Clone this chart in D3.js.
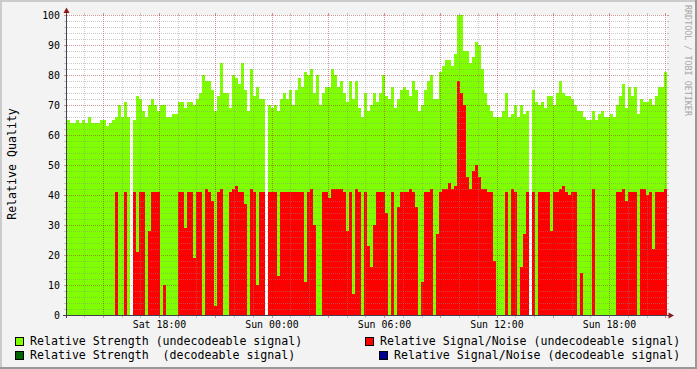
<!DOCTYPE html>
<html><head><meta charset="utf-8">
<script src="https://cdn.jsdelivr.net/npm/d3@7"></script>
<style>html,body{margin:0;padding:0;background:#F3F3F3;} svg{display:block;}</style>
</head><body>
<svg id="c" width="697" height="369"></svg>
<script>
// ---- data ----
const startTime = Date.UTC(2009, 2, 7, 13, 5, 36); // Sat 13:05:36
const stepMinutes = 9.6;
const strength = [65,64,64,65,64,65,64,66,64,64,64,65,65,63,64,65,66,70,66,71,66,null,65,73,72,68,66,70,72,70,68,70,70,66,66,67,67,71,71,69,71,71,70,72,74,80,78,78,75,68,73,84,74,74,69,80,79,77,84,75,68,82,73,76,72,72,null,70,69,70,68,72,74,72,75,70,75,79,76,81,80,82,74,80,70,74,76,76,82,80,76,78,74,71,78,72,78,69,66,74,68,70,74,71,74,80,73,72,76,69,72,75,76,75,73,78,75,68,70,75,78,80,72,72,81,83,85,85,83,87,100,100,88,88,84,86,91,90,82,74,70,68,66,66,66,68,74,66,67,70,66,70,67,68,null,75,71,70,71,69,73,73,70,74,78,74,73,73,72,70,68,68,66,65,65,68,65,67,68,66,66,67,66,70,73,77,69,76,73,76,67,72,71,71,72,70,73,76,76,81];
const signalNoise = [0,0,0,0,0,0,0,0,0,0,0,0,0,0,0,0,41,0,0,41,0,null,41,21,41,41,0,28,41,41,41,0,10,0,0,0,0,41,41,29,41,41,19,41,41,0,42,41,38,3,41,42,0,0,41,42,43,41,41,37,0,42,41,10,41,41,null,41,41,41,13,41,41,41,41,41,41,41,41,11,41,42,30,0,0,41,41,39,42,42,42,42,41,28,41,7,42,41,0,41,23,16,30,41,41,41,34,0,41,0,36,41,41,41,42,41,36,0,11,41,41,42,0,27,41,42,42,44,42,43,78,74,70,46,42,48,50,46,42,42,41,41,18,0,0,0,41,0,42,41,0,16,27,41,null,41,0,41,41,41,41,28,41,41,42,43,41,40,41,41,0,14,0,0,0,42,0,0,0,0,0,0,0,41,41,42,38,41,41,41,0,42,42,40,41,22,41,41,41,42];
const yTickValues = [0,10,20,30,40,50,60,70,80,90,100];
const xTickLabels = ["Sat 18:00","Sun 00:00","Sun 06:00","Sun 12:00","Sun 18:00"];
const legendLabels = ["Relative Strength (undecodeable signal)","Relative Signal/Noise (undecodeable signal)","Relative Strength  (decodeable signal)","Relative Signal/Noise (decodeable signal)"];
const legendColors = ["#80FF00","#FF0000","#006400","#000090"];
const yTitle = "Relative Quality";
const watermark = "RRDTOOL / TOBI OETIKER";

// ---- drawing ----
const W = 697, H = 369;
const svg = d3.select("#c");
const mono = "'DejaVu Sans Mono', monospace";
const stepMs = stepMinutes * 60000;
const n = strength.length;
const endTime = startTime + n * stepMs;

const x = d3.scaleUtc().domain([new Date(startTime), new Date(endTime)]).range([67, 667]);
const y = d3.scaleLinear().domain([0, 100]).range([315, 15]);

svg.append("rect").attr("width", W).attr("height", H).attr("fill", "#F3F3F3");
// frame shading
svg.append("rect").attr("x",0).attr("y",0).attr("width",W).attr("height",2).attr("fill","#CBCBCB");
svg.append("rect").attr("x",0).attr("y",0).attr("width",2).attr("height",H).attr("fill","#CBCBCB");
svg.append("rect").attr("x",0).attr("y",H-2).attr("width",W).attr("height",2).attr("fill","#999999");
svg.append("rect").attr("x",W-2).attr("y",0).attr("width",2).attr("height",H).attr("fill","#999999");

// canvas
svg.append("rect").attr("x", x.range()[0]).attr("y", y(100)).attr("width", x.range()[1]-x.range()[0]).attr("height", y(0)-y(100)).attr("fill", "#FFFFFF");

const cols = d3.range(n).map(i => ({t0: new Date(startTime + i*stepMs), t1: new Date(startTime + (i+1)*stepMs), s: strength[i], r: signalNoise[i]}));

const g = svg.append("g").attr("shape-rendering", "crispEdges");
g.selectAll("rect.s").data(cols.filter(d => d.s != null && d.s > 0)).join("rect")
  .attr("x", d => x(d.t0)).attr("width", d => x(d.t1) - x(d.t0))
  .attr("y", d => y(d.s)).attr("height", d => y(0) - y(d.s)).attr("fill", legendColors[0]);
g.selectAll("rect.r").data(cols.filter(d => d.r != null && d.r > 0)).join("rect")
  .attr("x", d => x(d.t0)).attr("width", d => x(d.t1) - x(d.t0))
  .attr("y", d => y(d.r)).attr("height", d => y(0) - y(d.r)).attr("fill", legendColors[1]);

// grid
const grid = svg.append("g").attr("shape-rendering", "crispEdges");
const minorCol = "rgba(140,140,140,0.45)", majorCol = "rgba(150,30,30,0.45)";
const x0 = x.range()[0], x1 = x.range()[1];
d3.range(2, 101, 2).forEach(v => {
  const major = v % 10 === 0;
  const yy = Math.round(y(v)) + 0.5;
  const c = major ? majorCol : minorCol;
  grid.append("line").attr("x1", x0).attr("x2", x1).attr("y1", yy).attr("y2", yy)
    .attr("stroke", c).attr("stroke-dasharray", "1,1");
  grid.append("line").attr("x1", x0-3).attr("x2", x0-1).attr("y1", yy).attr("y2", yy).attr("stroke", c);
  grid.append("line").attr("x1", x1).attr("x2", x1+2).attr("y1", yy).attr("y2", yy).attr("stroke", c);
});
x.ticks(d3.utcHour.every(1)).forEach(t => {
  const major = t.getUTCHours() % 3 === 0;
  const xx = Math.round(x(t)) + 0.5;
  const c = major ? majorCol : minorCol;
  grid.append("line").attr("x1", xx).attr("x2", xx).attr("y1", y(100)).attr("y2", y(0))
    .attr("stroke", c).attr("stroke-dasharray", "1,1");
  grid.append("line").attr("x1", xx).attr("x2", xx).attr("y1", y(0)+1).attr("y2", y(0)+3).attr("stroke", c);
  grid.append("line").attr("x1", xx).attr("x2", xx).attr("y1", y(100)-2).attr("y2", y(100)).attr("stroke", c);
});

// axes
const axisCol = "#404050", arrowCol = "#8B1A1A";
svg.append("line").attr("x1", 66.5).attr("x2", 66.5).attr("y1", 12).attr("y2", 318).attr("stroke", axisCol).attr("shape-rendering","crispEdges");
svg.append("line").attr("x1", 63).attr("x2", 670).attr("y1", 315.5).attr("y2", 315.5).attr("stroke", axisCol).attr("shape-rendering","crispEdges");
svg.append("path").attr("d", "M66.5,7.5 L69.5,13 L63.5,13 Z").attr("fill", arrowCol);
svg.append("path").attr("d", "M674,315.5 L668.5,312.5 L668.5,318.5 Z").attr("fill", arrowCol);

// y labels
svg.append("g").selectAll("text").data(yTickValues).join("text")
  .attr("x", 60).attr("y", d => y(d) + 3.5).attr("text-anchor", "end")
  .attr("font-family", mono).attr("font-size", "9.9px").attr("fill", "#000").text(d => d);

// x labels
const labelTimes = d3.utcHour.every(6).range(x.domain()[0], x.domain()[1]);
svg.append("g").selectAll("text").data(labelTimes.slice(0, xTickLabels.length)).join("text")
  .attr("x", d => x(d) + 0.5).attr("y", 327.5).attr("text-anchor", "middle")
  .attr("font-family", mono).attr("font-size", "9.9px").attr("fill", "#000")
  .text((d, i) => xTickLabels[i]);

// y title
svg.append("text").attr("transform", "translate(16,164) rotate(-90)").attr("text-anchor", "middle")
  .attr("font-family", mono).attr("font-size", "11.6px").attr("fill", "#000").text(yTitle);

// watermark
svg.append("text").attr("transform", "translate(685,5) rotate(90)")
  .attr("font-family", mono).attr("font-size", "8.4px").attr("fill", "#A6A6A6").text(watermark);

// legend
const legendPos = [{bx:15.5, tx:30, row:0},{bx:365.5, tx:380, row:0},{bx:15.5, tx:30, row:1},{bx:379.5, tx:394, row:1}];
const lg = svg.append("g");
legendLabels.forEach((lab, i) => {
  const p = legendPos[i];
  const by = p.row === 0 ? 337.5 : 351.5;
  lg.append("rect").attr("x", p.bx).attr("y", by).attr("width", 8).attr("height", 8)
    .attr("fill", legendColors[i]).attr("stroke", "#000").attr("stroke-width", 1).attr("shape-rendering","crispEdges");
  lg.append("text").attr("x", p.tx).attr("y", by + 7).attr("font-family", mono).attr("font-size", "11.6px")
    .attr("fill", "#000").attr("xml:space", "preserve").style("white-space", "pre").text(lab);
});
</script>
</body></html>
